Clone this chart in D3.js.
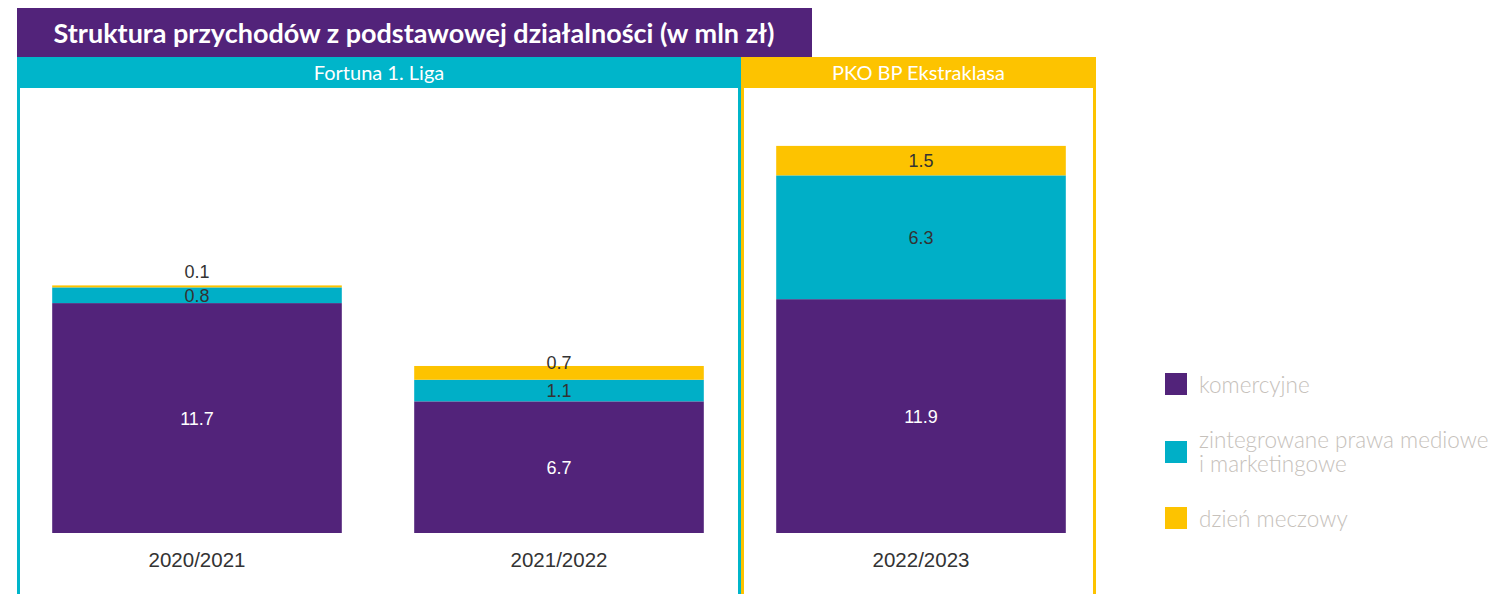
<!DOCTYPE html>
<html><head><meta charset="utf-8">
<script src="https://cdn.jsdelivr.net/npm/d3@7"></script>
<style>body{margin:0;background:#fff;} svg{display:block;}</style>
</head><body>
<svg id="c" width="1510" height="594"></svg>
<script>
// ---- data ----
const categories = ["2020/2021", "2021/2022", "2022/2023"];
const komercyjne = [11.7, 6.7, 11.9];
const prawaMediowe = [0.8, 1.1, 6.3];
const dzienMeczowy = [0.1, 0.7, 1.5];
const seriesNames = ["komercyjne", "zintegrowane prawa mediowe|i marketingowe", "dzień meczowy"];
const leagues = ["Fortuna 1. Liga", "PKO BP Ekstraklasa"];
const title = "Struktura przychodów z podstawowej działalności (w mln zł)";

// ---- styles ----
const PURPLE = "#52237a", CYAN = "#00afc7", CYAN_H = "#00b5ca", YELLOW = "#fdc300";
const colors = [PURPLE, CYAN, YELLOW];
const headFont = "Lato, 'Noto Sans', sans-serif";
const numFont = "'Liberation Sans', Arial, sans-serif";

const svg = d3.select("#c");

// title
svg.append("rect").attr("x", 17).attr("y", 8).attr("width", 795).attr("height", 49).attr("fill", PURPLE);
svg.append("text").attr("x", 414).attr("y", 43).attr("text-anchor", "middle")
  .attr("fill", "#fff").attr("font-family", headFont).attr("font-weight", 700).attr("font-size", 27)
  .text(title);

// panels
const panels = [{x0: 17, x1: 741, c: CYAN_H}, {x0: 741, x1: 1096, c: YELLOW}];
panels.forEach((p, i) => {
  svg.append("rect").attr("x", p.x0).attr("y", 57).attr("width", p.x1 - p.x0).attr("height", 31).attr("fill", p.c);
  svg.append("rect").attr("x", p.x0).attr("y", 88).attr("width", 3).attr("height", 506).attr("fill", p.c);
  svg.append("rect").attr("x", p.x1 - 3).attr("y", 88).attr("width", 3).attr("height", 506).attr("fill", p.c);
  svg.append("text").attr("x", (p.x0 + p.x1) / 2).attr("y", 80).attr("text-anchor", "middle")
    .attr("fill", "#fff").attr("font-family", headFont).attr("font-size", 20).text(leagues[i]);
});

// scales
const x = d3.scaleBand().domain(categories).range([16, 1102]).paddingInner(0.2).paddingOuter(0.1);
const y = d3.scaleLinear().domain([0, 20]).range([533, 140]);

const rows = categories.map((c, i) => ({cat: c, s0: komercyjne[i], s1: prawaMediowe[i], s2: dzienMeczowy[i]}));
const stack = d3.stack().keys(["s0", "s1", "s2"])(rows);

stack.forEach((layer, li) => {
  const g = svg.append("g");
  g.selectAll("rect").data(layer).join("rect")
    .attr("x", d => x(d.data.cat)).attr("width", x.bandwidth())
    .attr("y", d => y(d[1])).attr("height", d => y(d[0]) - y(d[1]))
    .attr("fill", colors[li]);
  g.selectAll("text").data(layer).join("text")
    .attr("x", d => x(d.data.cat) + x.bandwidth() / 2)
    .attr("y", d => {
      const h = y(d[0]) - y(d[1]);
      if (h < 6) return y(d[1]) - 14;
      if (h < 15 && li === 2) return y(d[1]) - 3;
      return (y(d[0]) + y(d[1])) / 2;
    })
    .attr("dy", "0.36em")
    .attr("text-anchor", "middle")
    .attr("font-family", numFont).attr("font-size", 18)
    .attr("fill", li === 0 ? "#fff" : "#333")
    .text(d => (d[1] - d[0]).toFixed(1));
});

// category axis labels
const xAxis = d3.axisBottom(x).tickSize(0).tickPadding(0);
const ax = svg.append("g").attr("transform", "translate(0,552)").call(xAxis);
ax.select(".domain").remove();
ax.selectAll("text").attr("font-family", numFont).attr("font-size", 20.5).attr("fill", "#333").attr("dy", "0.71em");

// legend
const legY = [373, 441, 507];
const lg = svg.append("g");
seriesNames.forEach((n, i) => {
  lg.append("rect").attr("x", 1165).attr("y", legY[i]).attr("width", 22).attr("height", 22).attr("fill", colors[i]);
  const parts = n.split("|");
  parts.forEach((p, k) => {
    lg.append("text")
      .attr("x", 1199)
      .attr("y", parts.length > 1 ? legY[i] + 7 + k * 24 : legY[i] + 20)
      .attr("font-family", headFont).attr("font-weight", 300).attr("font-size", 22.5).attr("fill", "#c6c1bb")
      .text(p);
  });
});
</script>
</body></html>
